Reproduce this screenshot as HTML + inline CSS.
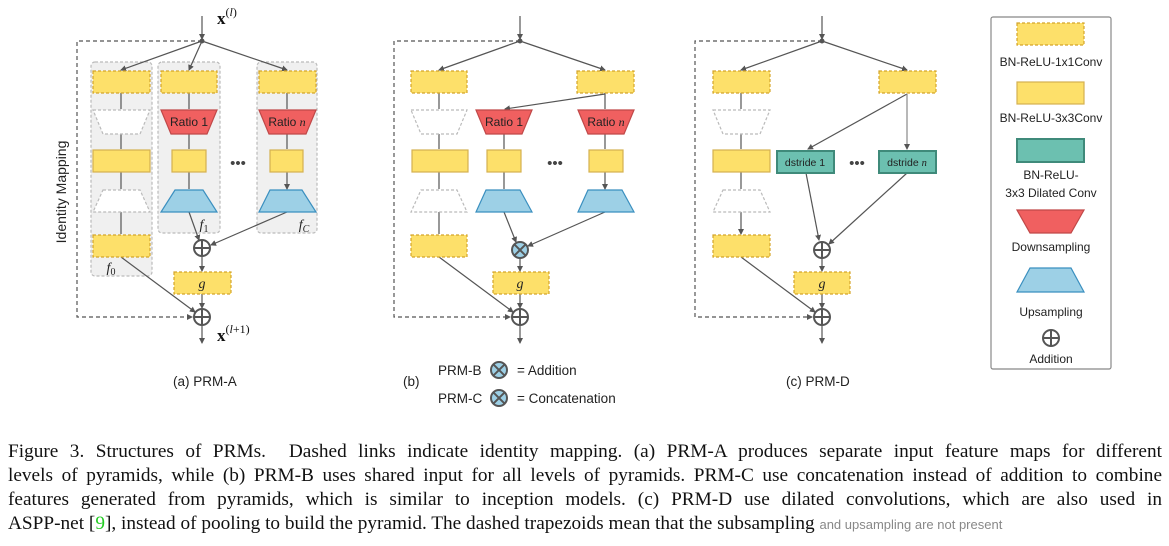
<!DOCTYPE html>
<html><head><meta charset="utf-8"><style>
html,body{margin:0;padding:0;background:#fff;width:1169px;height:546px;overflow:hidden}
.cap{position:absolute;left:8px;width:1154px;font-family:"Liberation Serif",serif;font-size:19.3px;line-height:19px;text-align:justify;text-align-last:justify;white-space:nowrap;color:#111}
</style></head><body>
<svg width="1169" height="430" style="position:absolute;left:0;top:0" font-family="Liberation Sans, sans-serif">
<defs>
<marker id="ar" markerWidth="6" markerHeight="6" refX="5" refY="3" orient="auto" markerUnits="userSpaceOnUse"><path d="M0,0 L6,3 L0,6 z" fill="#555"/></marker>
<g id="plus"><circle r="8" fill="#fff" stroke="#555" stroke-width="2"/><path d="M-8,0H8M0,-8V8" stroke="#555" stroke-width="2"/></g>
<g id="times"><circle r="8" fill="#9dd0e6" stroke="#555" stroke-width="2"/><path d="M-5.6,-5.6L5.6,5.6M5.6,-5.6L-5.6,5.6" stroke="#555" stroke-width="2"/></g>
</defs>
<g stroke="#555" stroke-width="1.2" fill="none">
<rect x="91" y="62" width="61" height="214" rx="4" fill="#f0f0f0" stroke="#bbb" stroke-dasharray="3,2"/>
<rect x="158" y="62" width="62" height="171" rx="4" fill="#f0f0f0" stroke="#bbb" stroke-dasharray="3,2"/>
<rect x="257" y="62" width="60" height="171" rx="4" fill="#f0f0f0" stroke="#bbb" stroke-dasharray="3,2"/>
<line x1="202" y1="16" x2="202" y2="39" marker-end="url(#ar)"/>
<path d="M202,41 H77 V317 H192" stroke-dasharray="4,3" marker-end="url(#ar)"/>
<line x1="202" y1="41" x2="121" y2="70" marker-end="url(#ar)"/>
<line x1="202" y1="41" x2="189" y2="70" marker-end="url(#ar)"/>
<line x1="202" y1="41" x2="287" y2="70" marker-end="url(#ar)"/>
<path d="M121,93V109M121,134V149M121,172V189M121,212V234M189,93V109M189,134V149M189,172V189M287,93V109M287,134V149M287,172V189" marker-end="url(#ar)"/>
<line x1="189" y1="212" x2="199" y2="240" marker-end="url(#ar)"/>
<line x1="287" y1="212" x2="211" y2="245" marker-end="url(#ar)"/>
<line x1="202" y1="257" x2="202" y2="271" marker-end="url(#ar)"/>
<line x1="202" y1="294" x2="202" y2="308" marker-end="url(#ar)"/>
<line x1="121" y1="257" x2="195" y2="312" marker-end="url(#ar)"/>
<line x1="202" y1="326" x2="202" y2="343" marker-end="url(#ar)"/>
<line x1="520" y1="16" x2="520" y2="39" marker-end="url(#ar)"/>
<path d="M520,41 H394 V317 H510" stroke-dasharray="4,3" marker-end="url(#ar)"/>
<line x1="520" y1="41" x2="439" y2="70" marker-end="url(#ar)"/>
<line x1="520" y1="41" x2="605" y2="70" marker-end="url(#ar)"/>
<line x1="605" y1="94" x2="505" y2="109" marker-end="url(#ar)"/>
<path d="M439,93V109M439,134V149M439,172V189M439,212V234M504,134V149M504,172V189M605,93V109M605,134V149M605,172V189" marker-end="url(#ar)"/>
<line x1="504" y1="212" x2="516" y2="242" marker-end="url(#ar)"/>
<line x1="605" y1="212" x2="528" y2="246" marker-end="url(#ar)"/>
<line x1="520" y1="258" x2="520" y2="271" marker-end="url(#ar)"/>
<line x1="520" y1="294" x2="520" y2="308" marker-end="url(#ar)"/>
<line x1="439" y1="257" x2="513" y2="312" marker-end="url(#ar)"/>
<line x1="520" y1="326" x2="520" y2="343" marker-end="url(#ar)"/>
<line x1="822" y1="16" x2="822" y2="39" marker-end="url(#ar)"/>
<path d="M822,41 H695 V317 H812" stroke-dasharray="4,3" marker-end="url(#ar)"/>
<line x1="822" y1="41" x2="741" y2="70" marker-end="url(#ar)"/>
<line x1="822" y1="41" x2="907" y2="70" marker-end="url(#ar)"/>
<path d="M741,93V109M741,134V149M741,172V189M741,212V234" marker-end="url(#ar)"/>
<line x1="907" y1="94" x2="808" y2="149" marker-end="url(#ar)"/>
<line x1="907" y1="94" x2="907" y2="149" marker-end="url(#ar)" stroke="#888"/>
<line x1="806" y1="173" x2="819" y2="240" marker-end="url(#ar)"/>
<line x1="907" y1="173" x2="829" y2="244" marker-end="url(#ar)"/>
<line x1="822" y1="258" x2="822" y2="271" marker-end="url(#ar)"/>
<line x1="822" y1="294" x2="822" y2="308" marker-end="url(#ar)"/>
<line x1="741" y1="257" x2="815" y2="312" marker-end="url(#ar)"/>
<line x1="822" y1="326" x2="822" y2="343" marker-end="url(#ar)"/>
</g>
<g fill="#555"><circle cx="202" cy="41" r="2.5"/><circle cx="520" cy="41" r="2.5"/><circle cx="822" cy="41" r="2.5"/></g>
<g stroke-width="1.2">
<g fill="#fde06a" stroke="#d4a52a" stroke-dasharray="3,2">
<rect x="93" y="71" width="57" height="22"/><rect x="161" y="71" width="56" height="22"/><rect x="259" y="71" width="57" height="22"/>
<rect x="93" y="235" width="57" height="22"/><rect x="174" y="272" width="57" height="22"/>
<rect x="411" y="71" width="56" height="22"/><rect x="577" y="71" width="57" height="22"/>
<rect x="411" y="235" width="56" height="22"/><rect x="493" y="272" width="56" height="22"/>
<rect x="713" y="71" width="57" height="22"/><rect x="879" y="71" width="57" height="22"/>
<rect x="713" y="235" width="57" height="22"/><rect x="794" y="272" width="56" height="22"/>
</g>
<g fill="#fff" stroke="#bbb" stroke-dasharray="3,2">
<polygon points="93,110 150,110 140,134 103,134"/><polygon points="103,190 140,190 150,212 93,212"/>
<polygon points="411,110 467,110 457,134 421,134"/><polygon points="421,190 457,190 467,212 411,212"/>
<polygon points="713,110 770,110 760,134 723,134"/><polygon points="723,190 760,190 770,212 713,212"/>
</g>
<g fill="#fde06a" stroke="#d4b050">
<rect x="93" y="150" width="57" height="22"/><rect x="172" y="150" width="34" height="22"/><rect x="270" y="150" width="33" height="22"/>
<rect x="412" y="150" width="56" height="22"/><rect x="487" y="150" width="34" height="22"/><rect x="589" y="150" width="34" height="22"/>
<rect x="713" y="150" width="57" height="22"/>
<rect x="1017" y="82" width="67" height="22"/>
</g>
<g fill="#fde06a" stroke="#d4a52a" stroke-dasharray="3,2"><rect x="1017" y="23" width="67" height="22"/></g>
<g fill="#f06060" stroke="#c04848">
<polygon points="161,110 217,110 207,134 171,134"/><polygon points="259,110 316,110 306,134 269,134"/>
<polygon points="476,110 532,110 522,134 486,134"/><polygon points="578,110 634,110 624,134 588,134"/>
<polygon points="1017,210 1084,210 1071,233 1030,233"/>
</g>
<g fill="#9dd0e6" stroke="#3a8fbf">
<polygon points="175,190 203,190 217,212 161,212"/><polygon points="270,190 302,190 316,212 259,212"/>
<polygon points="486,190 520,190 532,212 476,212"/><polygon points="588,190 622,190 634,212 578,212"/>
<polygon points="1030,268 1071,268 1084,292 1017,292"/>
</g>
<g fill="#6cc0b0" stroke="#3f8a7a" stroke-width="2">
<rect x="777" y="151" width="57" height="22"/><rect x="879" y="151" width="57" height="22"/>
<rect x="1017" y="139" width="67" height="23"/>
</g>
</g>
<use href="#plus" x="202" y="248"/><use href="#plus" x="202" y="317"/>
<use href="#times" x="520" y="250"/><use href="#plus" x="520" y="317"/>
<use href="#plus" x="822" y="250"/><use href="#plus" x="822" y="317"/>
<use href="#plus" x="1051" y="338"/>
<use href="#times" x="499" y="370"/><use href="#times" x="499" y="398"/>
<g font-size="12" fill="#222" text-anchor="middle">
<text x="189" y="126">Ratio 1</text><text x="287" y="126">Ratio <tspan font-family="Liberation Serif" font-style="italic">n</tspan></text>
<text x="504" y="126">Ratio 1</text><text x="606" y="126">Ratio <tspan font-family="Liberation Serif" font-style="italic">n</tspan></text>
<text x="805" y="166" font-size="10.5">dstride 1</text><text x="907" y="166" font-size="10.5">dstride <tspan font-family="Liberation Serif" font-style="italic">n</tspan></text>
</g>
<g font-family="Liberation Serif, serif" font-style="italic" font-size="14" fill="#222" text-anchor="middle">
<text x="202" y="288">g</text><text x="520" y="288">g</text><text x="822" y="288">g</text>
<text x="204" y="229">f<tspan font-size="10" dy="3" font-style="normal">1</tspan></text>
<text x="304" y="229">f<tspan font-size="10" dy="3">C</tspan></text>
<text x="111" y="272">f<tspan font-size="10" dy="3" font-style="normal">0</tspan></text>
</g>
<g fill="#444" font-size="15" text-anchor="middle"><text x="238" y="168">•••</text><text x="555" y="168">•••</text><text x="857" y="168">•••</text></g>
<g font-family="Liberation Serif, serif" font-size="17" fill="#111">
<text x="217" y="24" font-weight="bold">x<tspan font-weight="normal" font-size="12" dy="-8">(<tspan font-style="italic">l</tspan>)</tspan></text>
<text x="217" y="341" font-weight="bold">x<tspan font-weight="normal" font-size="12" dy="-8">(<tspan font-style="italic">l</tspan>+1)</tspan></text>
</g>
<text transform="translate(66,192) rotate(-90)" text-anchor="middle" font-size="14" fill="#222">Identity Mapping</text>
<g font-size="13.5" fill="#222">
<text x="173" y="386">(a) PRM-A</text>
<text x="403" y="386">(b)</text>
<text x="438" y="375">PRM-B</text><text x="517" y="375">= Addition</text>
<text x="438" y="403">PRM-C</text><text x="517" y="403">= Concatenation</text>
<text x="786" y="386">(c) PRM-D</text>
</g>
<rect x="991" y="17" width="120" height="352" rx="2" fill="none" stroke="#888" stroke-width="1.2"/>
<g font-size="12" fill="#222" text-anchor="middle">
<text x="1051" y="66">BN-ReLU-1x1Conv</text>
<text x="1051" y="122">BN-ReLU-3x3Conv</text>
<text x="1051" y="179">BN-ReLU-</text><text x="1051" y="197">3x3 Dilated Conv</text>
<text x="1051" y="251">Downsampling</text>
<text x="1051" y="316">Upsampling</text>
<text x="1051" y="363">Addition</text>
</g>
</svg>
<div class="cap" style="top:442px">Figure 3. Structures of PRMs. &nbsp;Dashed links indicate identity mapping. (a) PRM-A produces separate input feature maps for different</div>
<div class="cap" style="top:466px">levels of pyramids, while (b) PRM-B uses shared input for all levels of pyramids. PRM-C use concatenation instead of addition to combine</div>
<div class="cap" style="top:490px">features generated from pyramids, which is similar to inception models. (c) PRM-D use dilated convolutions, which are also used in</div>
<div class="cap" style="top:514px;text-align-last:left">ASPP-net [<span style="color:#2c2">9</span>], instead of pooling to build the pyramid. The dashed trapezoids mean that the subsampling <span style="font-size:13px;color:#888;font-family:'Liberation Sans',sans-serif">and upsampling are not present</span></div>
</body></html>
